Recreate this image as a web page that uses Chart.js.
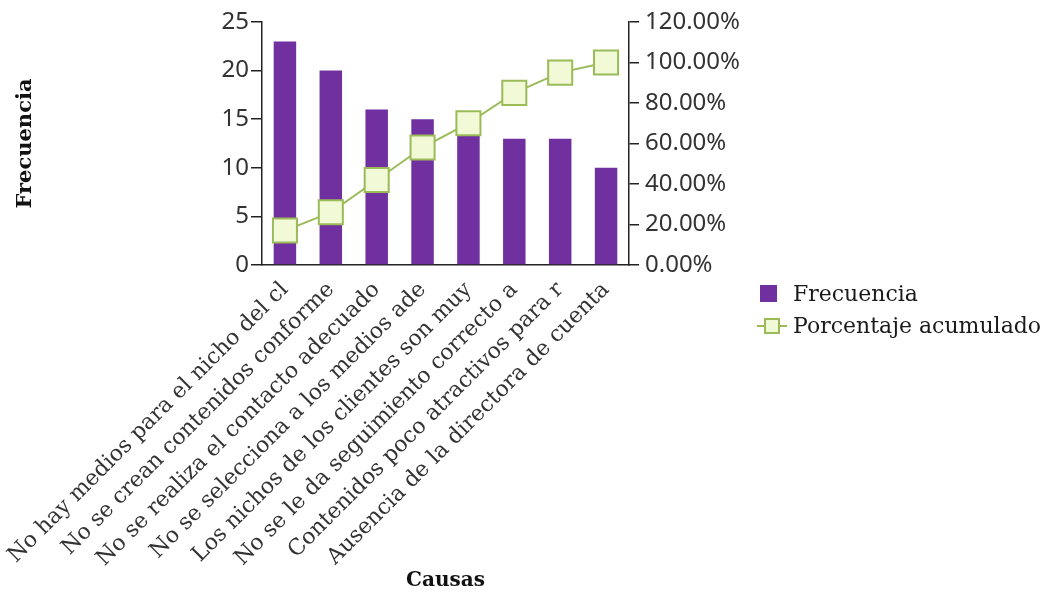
<!DOCTYPE html>
<html>
<head>
<meta charset="utf-8">
<script src="https://cdn.jsdelivr.net/npm/chart.js@4.4.1/dist/chart.umd.min.js"></script>
<style>
html,body{margin:0;padding:0;background:#fff;}
#wrap{position:relative;width:1050px;height:594px;}
</style>
</head>
<body>
<div id="wrap"><canvas id="c" width="1050" height="594"></canvas></div>
<script>
const categories = [
  "No hay medios para el nicho del cl",
  "No se crean contenidos conforme",
  "No se realiza el contacto adecuado",
  "No se selecciona a los medios ade",
  "Los nichos de los clientes son muy",
  "No se le da seguimiento correcto a",
  "Contenidos poco atractivos para r",
  "Ausencia de la directora de cuenta"
];
const frecuencia = [23, 20, 16, 15, 14, 13, 13, 10];
const porcentajeAcumulado = [17, 26, 42, 58, 70, 85, 95, 100];
const leftTicks = [0, 5, 10, 15, 20, 25];
const rightTicks = [0, 20, 40, 60, 80, 100, 120];

const PURPLE = '#7030A0';
const GREEN = '#9BBB59';
const MARK_FILL = '#F1F9D6';
const SERIF = '"DejaVu Serif", serif';
const SANS = '"Noto Sans", sans-serif';

const legendPlugin = {
  id: 'customLegend',
  afterDraw(chart) {
    const ctx = chart.ctx;
    ctx.save();
    ctx.font = '22px ' + SERIF;
    ctx.textBaseline = 'middle';
    ctx.fillStyle = PURPLE;
    ctx.fillRect(760, 285, 17, 17);
    ctx.fillStyle = '#1a1a1a';
    ctx.fillText('Frecuencia', 793, 295);
    ctx.strokeStyle = GREEN;
    ctx.lineWidth = 2;
    ctx.beginPath();
    ctx.moveTo(757, 326);
    ctx.lineTo(787, 326);
    ctx.stroke();
    ctx.fillStyle = MARK_FILL;
    ctx.fillRect(765, 319, 14, 14);
    ctx.strokeRect(765, 319, 14, 14);
    ctx.fillStyle = '#1a1a1a';
    ctx.fillText('Porcentaje acumulado', 793, 327);
    ctx.restore();
  }
};

new Chart(document.getElementById('c'), {
  data: {
    labels: categories,
    datasets: [
      {
        type: 'line',
        label: 'Porcentaje acumulado',
        data: porcentajeAcumulado,
        yAxisID: 'y1',
        borderColor: GREEN,
        borderWidth: 2,
        backgroundColor: MARK_FILL,
        pointStyle: 'rect',
        pointRadius: 17,
        pointHoverRadius: 17,
        pointBorderWidth: 2,
        pointBorderColor: GREEN,
        pointBackgroundColor: MARK_FILL,
        tension: 0,
        clip: false,
        order: 0
      },
      {
        type: 'bar',
        label: 'Frecuencia',
        data: frecuencia,
        yAxisID: 'y',
        backgroundColor: PURPLE,
        borderWidth: 0,
        categoryPercentage: 0.98,
        barPercentage: 0.5,
        order: 1
      }
    ]
  },
  options: {
    responsive: false,
    animation: false,
    layout: { padding: { top: 22, left: 0, right: 0, bottom: 0 } },
    plugins: { legend: { display: false }, tooltip: { enabled: false } },
    scales: {
      x: {
        position: 'bottom',
        grid: { display: false },
        border: { display: true, color: '#222', width: 1.5 },
        ticks: {
          autoSkip: false, maxRotation: 45, minRotation: 45,
          font: { family: SERIF, size: 22 }, color: '#333', padding: 4
        },
        title: {
          display: true, text: 'Causas',
          font: { family: SERIF, size: 20, weight: 'bold' }, color: '#111',
          padding: { top: 0, bottom: 1 }
        },
        afterFit(s) { s.height = 329; s.paddingLeft = 0; s.paddingRight = 0; }
      },
      y: {
        position: 'left',
        min: 0, max: 25,
        afterBuildTicks(s) { s.ticks = leftTicks.map(v => ({ value: v })); },
        grid: { drawOnChartArea: false, drawTicks: true, tickLength: 11, color: '#222', lineWidth: 1.5 },
        border: { display: true, color: '#222', width: 1.5 },
        ticks: { font: { family: SANS, size: 24 }, color: '#333', padding: 2 },
        title: {
          display: true, text: 'Frecuencia',
          font: { family: SERIF, size: 21, weight: 'bold' }, color: '#111',
          padding: { top: 13, bottom: 0 }
        },
        afterFit(s) { s.width = 262; s.paddingTop = 0; s.paddingBottom = 0; }
      },
      y1: {
        position: 'right',
        min: 0, max: 120,
        afterBuildTicks(s) { s.ticks = rightTicks.map(v => ({ value: v })); },
        grid: { drawOnChartArea: false, drawTicks: true, tickLength: 10, color: '#222', lineWidth: 1.5 },
        border: { display: true, color: '#222', width: 1.5 },
        ticks: {
          font: { family: SANS, size: 24 }, color: '#333', padding: 6,
          callback: v => v.toFixed(2) + '%'
        },
        afterFit(s) { s.width = 421; s.paddingTop = 0; s.paddingBottom = 0; }
      }
    }
  },
  plugins: [legendPlugin]
});
</script>
</body>
</html>
